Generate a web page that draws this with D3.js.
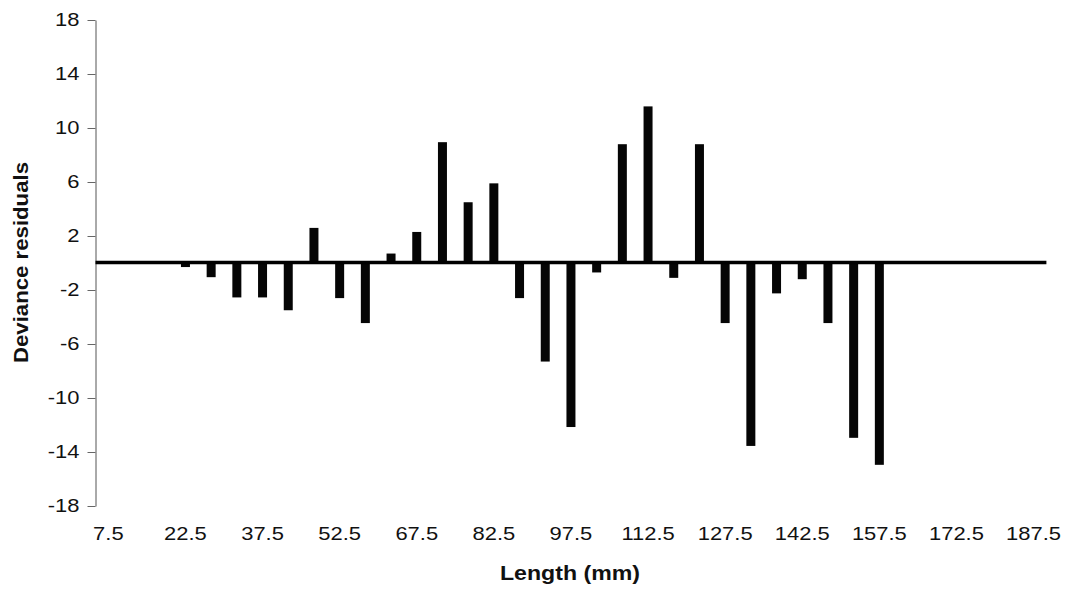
<!DOCTYPE html>
<html>
<head>
<meta charset="utf-8">
<script src="https://cdn.jsdelivr.net/npm/d3@7"></script>
<style>
  html, body { margin: 0; padding: 0; background: #fff; }
  svg { display: block; }
  text { font-family: "Liberation Sans", Arial, Helvetica, sans-serif; fill: #111; }
</style>
</head>
<body>
<svg id="chart" width="1073" height="590"></svg>
<script>
// ---- data ----
const lengths = [7.5, 12.5, 17.5, 22.5, 27.5, 32.5, 37.5, 42.5, 47.5, 52.5, 57.5, 62.5, 67.5,
  72.5, 77.5, 82.5, 87.5, 92.5, 97.5, 102.5, 107.5, 112.5, 117.5, 122.5, 127.5, 132.5,
  137.5, 142.5, 147.5, 152.5, 157.5, 162.5, 167.5, 172.5, 177.5, 182.5, 187.5];
const residuals = [0, 0, 0, -0.3, -1.05, -2.55, -2.55, -3.5, 2.6, -2.6, -4.45, 0.7, 2.3,
  8.95, 4.5, 5.9, -2.6, -7.3, -12.15, -0.7, 8.8, 11.6, -1.1, 8.8, -4.45, -13.55,
  -2.25, -1.2, -4.45, -12.95, -14.95, 0, 0, 0, 0, 0, 0];
const yTicks = [18, 14, 10, 6, 2, -2, -6, -10, -14, -18];
const xTickLabels = [7.5, 22.5, 37.5, 52.5, 67.5, 82.5, 97.5, 112.5, 127.5, 142.5, 157.5, 172.5, 187.5];
const xTitle = "Length (mm)";
const yTitle = "Deviance residuals";

// ---- layout ----
const svg = d3.select("#chart");
const mLeft = 95.5, mRight = 1046.4, mTop = 20, mBottom = 506;
const sx = 1.22; // horizontal stretch of the tick label glyphs

const x = d3.scaleBand()
  .domain(lengths)
  .range([mLeft, mRight])
  .paddingInner(0.65)
  .paddingOuter(0.325);

const y = d3.scaleLinear().domain([-18, 18]).range([mBottom, mTop]);

// y axis
const yAxis = svg.append("g")
  .attr("transform", `translate(${mLeft},0)`)
  .call(d3.axisLeft(y).tickValues(yTicks).tickSize(8).tickSizeOuter(0).tickPadding(8)
    .tickFormat(d => String(d)));
yAxis.select(".domain").attr("stroke", "#555").attr("stroke-width", 1);
yAxis.selectAll(".tick line").attr("stroke", "#666").attr("stroke-width", 1);
yAxis.selectAll(".tick text")
  .style("font-size", "18px")
  .attr("fill", "#111")
  .attr("x", -16 / sx)
  .attr("transform", `scale(${sx},1)`);

// x axis (labels only)
const xAxis = svg.append("g")
  .attr("transform", `translate(0,${mBottom})`)
  .call(d3.axisBottom(x).tickValues(xTickLabels).tickSize(0).tickPadding(21).tickFormat(d3.format(".1f")));
xAxis.select(".domain").remove();
xAxis.selectAll(".tick text")
  .style("font-size", "18px")
  .attr("fill", "#111")
  .attr("transform", `scale(${sx},1)`);

// bars
svg.append("g")
  .selectAll("rect")
  .data(lengths.map((d, i) => ({ len: d, v: residuals[i] })).filter(d => d.v !== 0))
  .join("rect")
  .attr("x", d => x(d.len))
  .attr("width", x.bandwidth())
  .attr("y", d => Math.min(y(d.v), y(0)))
  .attr("height", d => Math.abs(y(d.v) - y(0)))
  .attr("fill", "#050505");

// zero line
svg.append("line")
  .attr("x1", mLeft).attr("x2", mRight)
  .attr("y1", y(0) - 0.5).attr("y2", y(0) - 0.5)
  .attr("stroke", "#000").attr("stroke-width", 3.5);

// titles
svg.append("text")
  .attr("x", 570).attr("y", 580)
  .attr("text-anchor", "middle")
  .style("font-size", "21px").style("font-weight", "bold")
  .attr("textLength", 140).attr("lengthAdjust", "spacingAndGlyphs")
  .text(xTitle);

svg.append("text")
  .attr("transform", `translate(28,262.5) rotate(-90)`)
  .attr("text-anchor", "middle")
  .style("font-size", "21px").style("font-weight", "bold")
  .attr("textLength", 201).attr("lengthAdjust", "spacingAndGlyphs")
  .text(yTitle);
</script>
</body>
</html>
